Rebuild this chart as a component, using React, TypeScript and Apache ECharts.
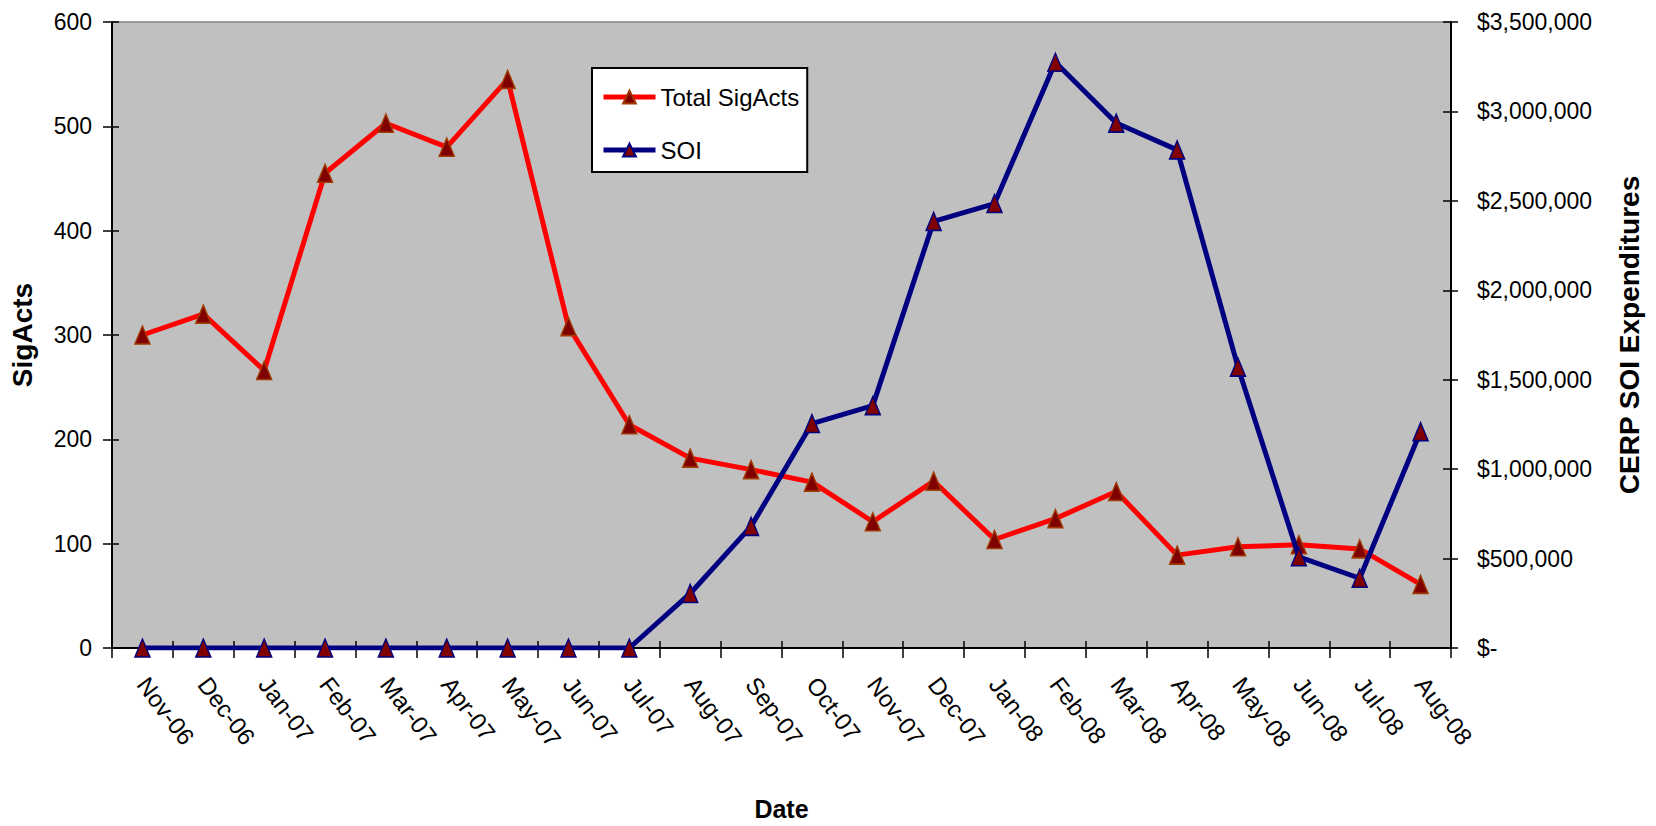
import React, { useEffect, useRef } from "react";
import * as echarts from "echarts";

// Monthly categories, Nov 2006 – Aug 2008
const months = [
  "Nov-06", "Dec-06", "Jan-07", "Feb-07", "Mar-07", "Apr-07", "May-07", "Jun-07",
  "Jul-07", "Aug-07", "Sep-07", "Oct-07", "Nov-07", "Dec-07", "Jan-08", "Feb-08",
  "Mar-08", "Apr-08", "May-08", "Jun-08", "Jul-08", "Aug-08",
];

// Significant activities per month (left axis)
const totalSigActs = [
  300, 320, 266, 455, 503, 480, 545, 308, 214, 182, 171, 159,
  121, 160, 104, 124, 150, 89, 97, 99, 95, 61,
];

// CERP SOI expenditures per month, in dollars (right axis)
const soiSpend = [
  0, 0, 0, 0, 0, 0, 0, 0, 0, 305000, 680000, 1255000,
  1355000, 2385000, 2485000, 3275000, 2935000, 2785000, 1570000, 510000, 390000, 1210000,
];

// Axis tick settings
const leftTicks = { min: 0, max: 600, interval: 100 };
const rightTicks = { min: 0, max: 3500000, interval: 500000 };

const FONT = "'Liberation Sans', Arial, Helvetica, sans-serif";

const dollar = (v: number) =>
  v === 0 ? "$-" : "$" + Math.round(v).toLocaleString("en-US");

export default function App() {
  const ref = useRef<HTMLDivElement>(null);

  useEffect(() => {
    document.body.style.margin = "0";
    if (!ref.current) return;
    const chart = echarts.init(ref.current, undefined, { renderer: "svg" });

    const tickStyle = { color: "#000", width: 1.5 };

    chart.setOption({
      animation: false,
      backgroundColor: "#ffffff",
      textStyle: { fontFamily: FONT, color: "#000" },
      grid: {
        left: 107,
        top: 22,
        width: 1344,
        height: 630,
        show: true,
        backgroundColor: "#C0C0C0",
        borderColor: "#808080",
        borderWidth: 1.5,
      },
      legend: {
        left: 592,
        top: 68,
        orient: "vertical",
        backgroundColor: "#ffffff",
        borderColor: "#000000",
        borderWidth: 2,
        borderRadius: 0,
        padding: [15, 8, 8, 9],
        itemWidth: 52,
        itemHeight: 16,
        itemGap: 25,
        lineStyle: { width: 5 },
        textStyle: { fontFamily: FONT, fontSize: 24, color: "#000", lineHeight: 28 },
        data: ["Total SigActs", "SOI"],
      },
      xAxis: [
        {
          type: "category",
          data: months,
          position: "bottom",
          boundaryGap: true,
          name: "Date",
          nameLocation: "middle",
          nameGap: 148,
          nameTextStyle: { fontFamily: FONT, fontSize: 25, fontWeight: "bold", color: "#000" },
          axisLine: { show: true, lineStyle: { color: "#000", width: 2 } },
          axisTick: { show: true, inside: false, length: 10, alignWithLabel: false, lineStyle: tickStyle },
          axisLabel: {
            interval: 0,
            rotate: -53,
            margin: 32,
            fontFamily: FONT,
            fontSize: 24,
            color: "#000",
          },
          splitLine: { show: false },
        },
        {
          type: "category",
          data: months,
          position: "bottom",
          boundaryGap: true,
          axisLine: { show: false },
          axisTick: { show: true, inside: true, length: 7, lineStyle: tickStyle },
          axisLabel: { show: false },
          splitLine: { show: false },
        },
      ],
      yAxis: [
        {
          type: "value",
          position: "left",
          ...leftTicks,
          name: "SigActs",
          nameLocation: "middle",
          nameRotate: 90,
          nameGap: 76,
          nameTextStyle: { fontFamily: FONT, fontSize: 28, fontWeight: "bold", color: "#000" },
          axisLine: { show: true, lineStyle: { color: "#000", width: 2 } },
          axisTick: { show: true, length: 9, lineStyle: tickStyle },
          axisLabel: { margin: 20, fontFamily: FONT, fontSize: 23, color: "#000" },
          splitLine: { show: false },
        },
        {
          type: "value",
          position: "right",
          ...rightTicks,
          name: "CERP SOI Expenditures",
          nameLocation: "middle",
          nameRotate: 90,
          nameGap: 164,
          nameTextStyle: { fontFamily: FONT, fontSize: 28, fontWeight: "bold", color: "#000" },
          axisLine: { show: true, lineStyle: { color: "#000", width: 2 } },
          axisTick: { show: true, length: 7, lineStyle: tickStyle },
          axisLabel: {
            margin: 26,
            fontFamily: FONT,
            fontSize: 23,
            color: "#000",
            formatter: (v: number) => dollar(v),
          },
          splitLine: { show: false },
        },
        {
          type: "value",
          position: "left",
          ...leftTicks,
          axisLine: { show: false },
          axisTick: { show: true, inside: true, length: 7, lineStyle: tickStyle },
          axisLabel: { show: false },
          splitLine: { show: false },
        },
        {
          type: "value",
          position: "right",
          ...rightTicks,
          axisLine: { show: false },
          axisTick: { show: true, inside: true, length: 8, lineStyle: tickStyle },
          axisLabel: { show: false },
          splitLine: { show: false },
        },
      ],
      series: [
        {
          name: "Total SigActs",
          type: "line",
          xAxisIndex: 0,
          yAxisIndex: 0,
          data: totalSigActs,
          symbol: "triangle",
          symbolSize: [15, 18],
          lineStyle: { color: "#FF0000", width: 5 },
          itemStyle: { color: "#800000", borderColor: "#A03A00", borderWidth: 1.5 },
          z: 3,
        },
        {
          name: "SOI",
          type: "line",
          xAxisIndex: 0,
          yAxisIndex: 1,
          data: soiSpend,
          symbol: "triangle",
          symbolSize: [15, 18],
          lineStyle: { color: "#000080", width: 5 },
          itemStyle: { color: "#800000", borderColor: "#000080", borderWidth: 1.5 },
          z: 4,
        },
      ],
    });

    return () => chart.dispose();
  }, []);

  return <div ref={ref} style={{ width: 1656, height: 826 }} />;
}
